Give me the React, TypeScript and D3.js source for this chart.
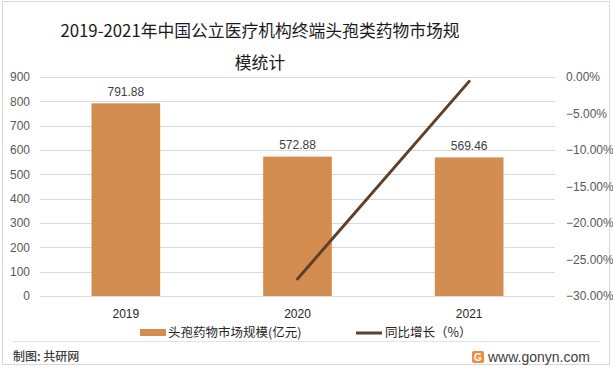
import * as d3 from "d3";
import { useEffect, useRef } from "react";

const years = ["2019", "2020", "2021"];
const marketSize = [791.88, 572.88, 569.46];
const growthYears = ["2020", "2021"];
const growthRate = [-27.66, -0.6];
const leftTicks = [0, 100, 200, 300, 400, 500, 600, 700, 800, 900];
const rightTicks = [0, -5, -10, -15, -20, -25, -30];

const CJK = "'Noto Sans CJK SC', 'Noto Sans', sans-serif";
const NUM = "'Liberation Sans', Arial, sans-serif";

function App() {
	const ref = useRef<SVGSVGElement>(null);

	useEffect(() => {
		const svg = d3.select(ref.current);
		svg.selectAll("*").remove();

		const margin = { left: 40, right: 58, top: 77, bottom: 74 };
		const W = 613;
		const plotBottom = 296;

		// outer border
		svg.append("rect")
			.attr("x", 2.5)
			.attr("y", 1.5)
			.attr("width", 607)
			.attr("height", 363)
			.attr("fill", "white")
			.attr("stroke", "#d9d9d9");

		const xScale = d3
			.scaleBand()
			.domain(years)
			.range([margin.left, W - margin.right])
			.paddingInner(0.6)
			.paddingOuter(0.3);
		const yLeft = d3.scaleLinear().domain([0, 900]).range([plotBottom, margin.top]);
		const yRight = d3.scaleLinear().domain([-30, 0]).range([plotBottom, margin.top]);

		// gridlines
		svg.append("g")
			.selectAll("line")
			.data(leftTicks)
			.enter()
			.append("line")
			.attr("x1", margin.left)
			.attr("x2", W - margin.right)
			.attr("y1", (d) => Math.round(yLeft(d)) + 0.5)
			.attr("y2", (d) => Math.round(yLeft(d)) + 0.5)
			.attr("stroke", "#d9d9d9");

		// left axis labels
		svg.append("g")
			.selectAll("text")
			.data(leftTicks)
			.enter()
			.append("text")
			.attr("x", 30)
			.attr("y", (d) => yLeft(d))
			.attr("dy", "0.35em")
			.attr("text-anchor", "end")
			.attr("font-family", NUM)
			.attr("font-size", 12)
			.attr("fill", "#595959")
			.text((d) => d);

		// right axis labels
		svg.append("g")
			.selectAll("text")
			.data(rightTicks)
			.enter()
			.append("text")
			.attr("x", 566)
			.attr("y", (d) => yRight(d))
			.attr("dy", "0.35em")
			.attr("font-family", NUM)
			.attr("font-size", 12)
			.attr("fill", "#595959")
			.text((d) => d3.format(".2f")(d) + "%");

		// bars
		svg.append("g")
			.selectAll("rect")
			.data(marketSize)
			.enter()
			.append("rect")
			.attr("x", (d, i) => xScale(years[i]) as number)
			.attr("y", (d) => yLeft(d))
			.attr("width", xScale.bandwidth())
			.attr("height", (d) => plotBottom - yLeft(d))
			.attr("fill", "#d48d50");

		// bar labels
		svg.append("g")
			.selectAll("text")
			.data(marketSize)
			.enter()
			.append("text")
			.attr("x", (d, i) => (xScale(years[i]) as number) + xScale.bandwidth() / 2)
			.attr("y", (d) => yLeft(d) - 12)
			.attr("dy", "0.35em")
			.attr("text-anchor", "middle")
			.attr("font-family", NUM)
			.attr("font-size", 12)
			.attr("fill", "#404040")
			.text((d) => d3.format(".2f")(d));

		// growth line
		const line = d3
			.line<number>()
			.x((d, i) => (xScale(growthYears[i]) as number) + xScale.bandwidth() / 2)
			.y((d) => yRight(d));
		svg.append("path")
			.datum(growthRate)
			.attr("d", line)
			.attr("fill", "none")
			.attr("stroke", "#5e4128")
			.attr("stroke-width", 3)
			.attr("stroke-linecap", "round");

		// x labels
		svg.append("g")
			.selectAll("text")
			.data(years)
			.enter()
			.append("text")
			.attr("x", (d) => (xScale(d) as number) + xScale.bandwidth() / 2)
			.attr("y", 314)
			.attr("dy", "0.35em")
			.attr("text-anchor", "middle")
			.attr("font-family", NUM)
			.attr("font-size", 12)
			.attr("fill", "#262626")
			.text((d) => d);

		// title
		const title = svg.append("text")
			.attr("text-anchor", "middle")
			.attr("font-family", CJK)
			.attr("font-size", 16.8)
			.attr("fill", "#1a1a1a");
		title.append("tspan").attr("x", 260).attr("y", 37).text("2019-2021年中国公立医疗机构终端头孢类药物市场规");
		title.append("tspan").attr("x", 260).attr("y", 69).text("模统计");

		// legend
		svg.append("rect")
			.attr("x", 140)
			.attr("y", 329)
			.attr("width", 26)
			.attr("height", 7)
			.attr("fill", "#d48d50");
		svg.append("text")
			.attr("x", 168)
			.attr("y", 333)
			.attr("dy", "0.35em")
			.attr("font-family", CJK)
			.attr("font-size", 12.5)
			.attr("fill", "#262626")
			.text("头孢药物市场规模(亿元)");
		svg.append("line")
			.attr("x1", 356)
			.attr("x2", 382)
			.attr("y1", 333)
			.attr("y2", 333)
			.attr("stroke", "#5e4128")
			.attr("stroke-width", 3);
		svg.append("text")
			.attr("x", 385)
			.attr("y", 333)
			.attr("dy", "0.35em")
			.attr("font-family", CJK)
			.attr("font-size", 12.5)
			.attr("fill", "#262626")
			.text("同比增长（%）");

		// footer
		svg.append("line")
			.attr("x1", 13)
			.attr("x2", 600)
			.attr("y1", 341.5)
			.attr("y2", 341.5)
			.attr("stroke", "#e3e3e3");
		svg.append("text")
			.attr("x", 13)
			.attr("y", 357)
			.attr("dy", "0.35em")
			.attr("font-family", CJK)
			.attr("font-size", 12)
			.attr("font-weight", 500)
			.attr("fill", "#404040")
			.text("制图: 共研网");
		svg.append("rect")
			.attr("x", 472)
			.attr("y", 351)
			.attr("width", 12)
			.attr("height", 12)
			.attr("rx", 2)
			.attr("fill", "#f08a3c");
		svg.append("text")
			.attr("x", 478)
			.attr("y", 357)
			.attr("dy", "0.35em")
			.attr("text-anchor", "middle")
			.attr("font-family", NUM)
			.attr("font-size", 10)
			.attr("font-weight", "bold")
			.attr("fill", "white")
			.text("G");
		svg.append("text")
			.attr("x", 488)
			.attr("y", 357)
			.attr("dy", "0.35em")
			.attr("font-family", NUM)
			.attr("font-size", 14)
			.attr("fill", "#404040")
			.text("www.gonyn.com");
	}, []);

	return (
		<svg
			ref={ref}
			width={613}
			height={370}
			style={{ position: "absolute", left: 0, top: 0 }}
		></svg>
	);
}

export default App;
